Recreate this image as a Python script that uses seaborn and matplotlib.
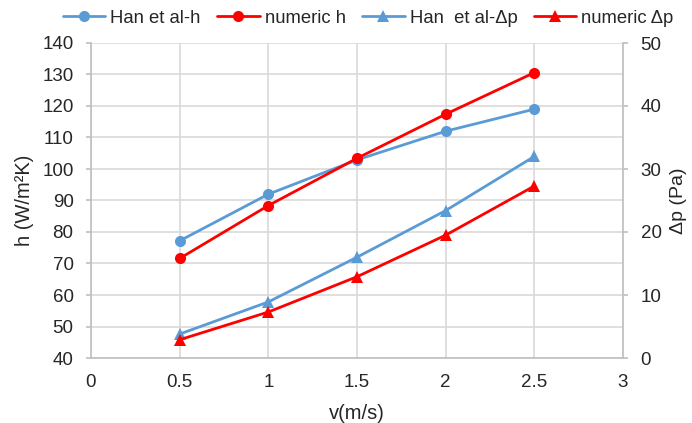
import matplotlib
matplotlib.use("Agg")
import matplotlib.pyplot as plt
import seaborn as sns
import pandas as pd

v = [0.5, 1.0, 1.5, 2.0, 2.5]
han_h = [77.2, 92.0, 102.9, 112.0, 119.0]
num_h = [71.6, 88.4, 103.4, 117.4, 130.6]
han_dp = [3.8, 8.9, 16.0, 23.4, 32.0]
num_dp = [2.9, 7.3, 12.9, 19.5, 27.3]

x_ticks = [0, 0.5, 1, 1.5, 2, 2.5, 3]
x_tick_labels = ["0", "0.5", "1", "1.5", "2", "2.5", "3"]

sns.set_theme(style="white")
plt.rcParams['font.family'] = ['Liberation Sans', 'DejaVu Sans']

BLUE = "#5B9BD5"
RED = "#FF0000"
GRID = "#D9D9D9"
AX = "#BFBFBF"
TXT = "#262626"

fig = plt.figure(figsize=(6.92, 4.23), dpi=100)
ax = fig.add_axes([91/692, 1-358/423, (623-91)/692, (358-43)/423])
ax2 = ax.twinx()

df = pd.DataFrame({"v": v, "han_h": han_h, "num_h": num_h, "han_dp": han_dp, "num_dp": num_dp})

lw = 2.0
ms = 8
sns.lineplot(data=df, x="v", y="han_h", ax=ax, color=BLUE, marker="o", markersize=ms,
             markeredgewidth=0, linewidth=lw, label="Han et al-h", legend=False)
sns.lineplot(data=df, x="v", y="num_h", ax=ax, color=RED, marker="o", markersize=ms,
             markeredgewidth=0, linewidth=lw, label="numeric h", legend=False)
sns.lineplot(data=df, x="v", y="han_dp", ax=ax2, color=BLUE, marker="^", markersize=ms,
             markeredgewidth=0, linewidth=lw, label="Han  et al-Δp", legend=False)
sns.lineplot(data=df, x="v", y="num_dp", ax=ax2, color=RED, marker="^", markersize=ms,
             markeredgewidth=0, linewidth=lw, label="numeric Δp", legend=False)

ax.set_xlim(0, 3)
ax.set_ylim(40, 140)
ax.set_xticks(x_ticks)
ax.set_xticklabels(x_tick_labels)
ax.set_yticks(range(40, 141, 10))
ax2.set_ylim(0, 50)
ax2.set_yticks(range(0, 51, 10))

ax.grid(True, color=GRID, linewidth=1.2)
ax.set_axisbelow(True)

for a in (ax, ax2):
    for s in a.spines.values():
        s.set_color(AX)
        s.set_linewidth(1.2)
    a.spines["top"].set_visible(False)
ax.spines["right"].set_visible(False)
ax2.spines["left"].set_visible(False)
ax2.spines["bottom"].set_visible(False)

ax.tick_params(axis="both", which="both", length=3.6, width=1.2, color=AX, labelsize=13.5,
               labelcolor=TXT, direction="out")
ax.tick_params(axis="x", pad=8)
ax.tick_params(axis="y", pad=9)
ax2.tick_params(axis="y", length=3.6, width=1.2, color=AX, labelsize=13.5, labelcolor=TXT,
                direction="out", pad=9)

ax.set_xlabel("v(m/s)", fontsize=14.5, color=TXT, labelpad=9)
ax.set_ylabel("h (W/m²K)", fontsize=14.5, color=TXT, labelpad=6)
ax2.set_ylabel("Δp (Pa)", fontsize=14, color=TXT, labelpad=6)

h1, l1 = ax.get_legend_handles_labels()
h2, l2 = ax2.get_legend_handles_labels()
fig.legend(h1 + h2, l1 + l2, loc="center", bbox_to_anchor=(0.532, 0.957), ncol=4,
           frameon=False, fontsize=13.3, handlelength=2.3, columnspacing=0.9,
           handletextpad=0.27, borderpad=0, borderaxespad=0)

fig.savefig("out.png", dpi=100)
